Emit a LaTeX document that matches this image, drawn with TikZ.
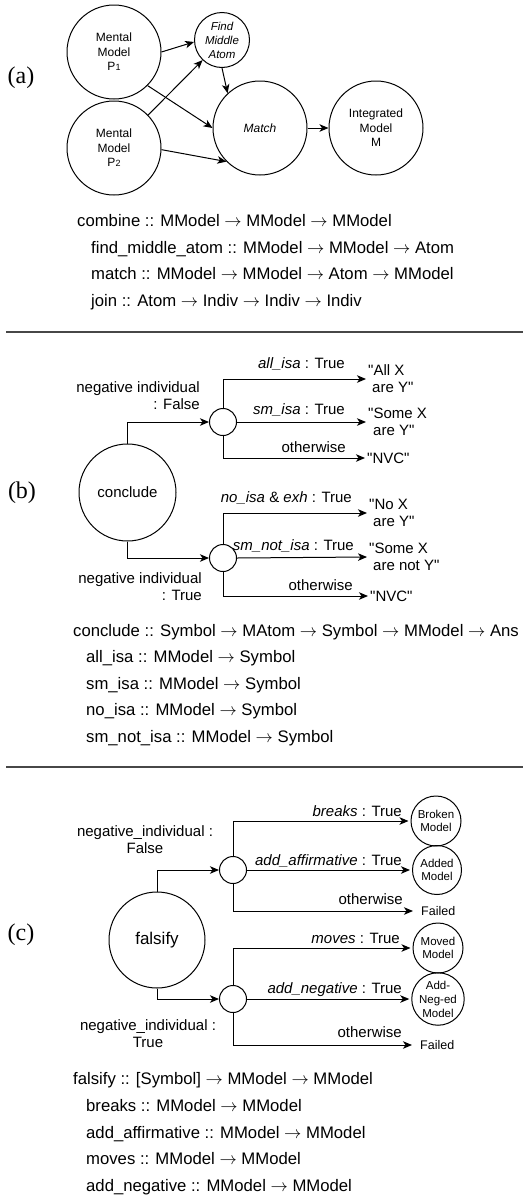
\documentclass[tikz,border=0pt]{standalone}
\usepackage{fontspec}
\setmainfont{Liberation Sans}[Ligatures=TeXOff]
\newfontfamily\serifsec{Liberation Serif}
\usetikzlibrary{arrows.meta}
\newcommand{\fsz}[2]{\fontsize{#1}{#2}\selectfont}
\newcommand{\psub}[1]{{\fsz{9}{9}#1}}
\begin{document}
\begin{tikzpicture}[x=1pt,y=-1pt,
  bigc/.style={circle, draw, line width=1pt, inner sep=0pt, minimum size=#1, align=center},
  small/.style={circle, draw, line width=1pt, inner sep=0pt, minimum size=27pt},
  arr/.style={-{Stealth[length=9pt,width=7.5pt,inset=2.5pt]}, line width=1pt},
  lbl/.style={inner sep=0pt, font=\fsz{15}{17}},
  tgt/.style={inner sep=2pt, anchor=west, align=left, font=\fsz{15}{17}},
  sig/.style={anchor=base west, inner sep=0pt, font=\fsz{16.7}{20}},
  sep/.style={line width=2pt, draw=black!72},
  sec/.style={inner sep=0pt, font=\serifsec\fsz{24}{28}}]
\useasboundingbox (0,0) rectangle (523,1197);

% ---------------- (a) ----------------
\node[sec] (la) at (21,78) {(a)};
\node[bigc=94pt, font=\fsz{12}{14.5}] (p1) at (114,52) {Mental\\Model\\P\psub{1}};
\node[bigc=94pt, font=\fsz{12}{14.5}] (p2) at (114,148) {Mental\\Model\\P\psub{2}};
\node[bigc=55pt, font=\itshape\fsz{11.5}{14}] (fma) at (222,40) {Find\\Middle\\Atom};
\node[bigc=94pt, font=\itshape\fsz{12}{14.5}] (match) at (260,128) {Match};
\node[bigc=94pt, font=\fsz{12}{14.5}] (im) at (376,128) {Integrated\\Model\\M};
\draw[arr] (p1.0) -- (fma.184);
\draw[arr] (p2.44) -- (fma.226);
\draw[arr] (p1.-45) -- (match.180);
\draw[arr] (p2.-2) -- (match.225);
\draw[arr] (fma.-90) -- (match.133);
\draw[arr] (match.east) -- (im.west);

\node[sig] (sa1) at (77,226) {combine :: MModel $\rightarrow$ MModel $\rightarrow$ MModel};
\node[sig] (sa2) at (91,253) {find\_middle\_atom :: MModel $\rightarrow$ MModel $\rightarrow$ Atom};
\node[sig] (sa3) at (91,279) {match :: MModel $\rightarrow$ MModel $\rightarrow$ Atom $\rightarrow$ MModel};
\node[sig] (sa4) at (91,306) {join :: Atom $\rightarrow$ Indiv $\rightarrow$ Indiv $\rightarrow$ Indiv};

\draw[sep] (6,332) -- (523,332);

% ---------------- (b) ----------------
\node[sec] (lb) at (22,493) {(b)};
\node[bigc=97pt, font=\fsz{15}{17}] (conc) at (127.5,492.5) {conclude};
\node[small] (u1) at (223,422) {};
\node[small] (l1) at (223,558) {};
\draw[arr] (conc.north) |- (u1.west);
\draw[arr] (conc.south) |- (l1.west);

\node[tgt] (ta) at (366,379) {"All X\\\hspace*{4pt}are Y"};
\node[tgt] (tb) at (366,422) {"Some X\\\hspace*{5pt}are Y"};
\node[tgt] (tc) at (365,458) {"NVC"};
\draw[arr] (u1.north) |- (ta.west);
\draw[arr] (u1.east) -- (tb.west);
\draw[arr] (u1.south) |- (tc.west);
\node[lbl, anchor=base east] (la1) at (345,368) {\textit{all\_isa} : True};
\node[lbl, anchor=base east] (la2) at (345,414) {\textit{sm\_isa} : True};
\node[lbl, anchor=base east] (la3) at (346,452) {otherwise};

\node[tgt] (td) at (367,513) {"No X\\\hspace*{4pt}are Y"};
\node[tgt] (te) at (367,557) {"Some X\\\hspace*{4pt}are not Y"};
\node[tgt] (tf) at (368,596) {"NVC"};
\draw[arr] (l1.north) |- (td.west);
\draw[arr] (l1.east) -- (te.west);
\draw[arr] (l1.south) |- (tf.west);
\node[lbl, anchor=base east] (lb1) at (352,502) {\textit{no\_isa} \& \textit{exh} : True};
\node[lbl, anchor=base east] (lb2) at (354,550) {\textit{sm\_not\_isa} : True};
\node[lbl, anchor=base east] (lb3) at (353,590) {otherwise};

\node[lbl, anchor=east, align=right] (nf) at (200,396) {negative individual\\: False};
\node[lbl, anchor=east, align=right] (nt) at (202,587) {negative individual\\: True};

\node[sig] (sb1) at (73,636) {conclude :: Symbol $\rightarrow$ MAtom $\rightarrow$ Symbol $\rightarrow$ MModel $\rightarrow$ Ans};
\node[sig] (sb2) at (86,662.5) {all\_isa :: MModel $\rightarrow$ Symbol};
\node[sig] (sb3) at (86,689) {sm\_isa :: MModel $\rightarrow$ Symbol};
\node[sig] (sb4) at (86,715.5) {no\_isa :: MModel $\rightarrow$ Symbol};
\node[sig] (sb5) at (86,742) {sm\_not\_isa :: MModel $\rightarrow$ Symbol};

\draw[sep] (6,767) -- (523,767);

% ---------------- (c) ----------------
\node[sec] (lc) at (21,935) {(c)};
\node[bigc=96pt, font=\fsz{17}{20}] (fals) at (157,940) {falsify};
\node[small] (u2) at (233,870) {};
\node[small] (l2) at (233,999) {};
\draw[arr] (fals.north) |- (u2.west);
\draw[arr] (fals.south) |- (l2.west);

\node[bigc=50pt, font=\fsz{11.5}{13.5}] (broken) at (436,821) {Broken\\Model};
\node[bigc=49pt, font=\fsz{11.5}{13.5}] (added) at (437,870) {Added\\Model};
\node[inner xsep=8pt, inner ysep=0pt, anchor=west, font=\fsz{12.5}{14}] (fail1) at (413,911) {Failed};
\draw[arr, shorten >=2pt] (u2.north) |- (broken.west);
\draw[arr, shorten >=2pt] (u2.east) -- (added.west);
\draw[arr] (u2.south) |- (fail1.west);
\node[lbl, anchor=base east] (lc1) at (402,816) {\textit{breaks} : True};
\node[lbl, anchor=base east] (lc2) at (402,865) {\textit{add\_affirmative} : True};
\node[lbl, anchor=base east] (lc3) at (403,904) {otherwise};

\node[bigc=50pt, font=\fsz{11.5}{13.5}] (moved) at (438,948) {Moved\\Model};
\node[bigc=50pt, font=\fsz{11.5}{14}] (addneg) at (438,999) {Add-\\Neg-ed\\Model};
\node[inner xsep=8pt, inner ysep=0pt, anchor=west, font=\fsz{12.5}{14}] (fail2) at (412,1045) {Failed};
\draw[arr, shorten >=2pt] (l2.north) |- (moved.west);
\draw[arr, shorten >=2pt] (l2.east) -- (addneg.west);
\draw[arr] (l2.south) |- (fail2.west);
\node[lbl, anchor=base east] (ld1) at (400,943) {\textit{moves} : True};
\node[lbl, anchor=base east] (ld2) at (402,993) {\textit{add\_negative} : True};
\node[lbl, anchor=base east] (ld3) at (402,1037) {otherwise};

\node[lbl, align=center] (nf2) at (145,840) {negative\_individual :\\False};
\node[lbl, align=center] (nt2) at (148,1034) {negative\_individual :\\True};

\node[sig] (sc1) at (73,1084) {falsify :: [Symbol] $\rightarrow$ MModel $\rightarrow$ MModel};
\node[sig] (sc2) at (86,1111) {breaks :: MModel $\rightarrow$ MModel};
\node[sig] (sc3) at (86,1138) {add\_affirmative :: MModel $\rightarrow$ MModel};
\node[sig] (sc4) at (86,1164) {moves :: MModel $\rightarrow$ MModel};
\node[sig] (sc5) at (86,1191) {add\_negative :: MModel $\rightarrow$ MModel};
\end{tikzpicture}
\end{document}
